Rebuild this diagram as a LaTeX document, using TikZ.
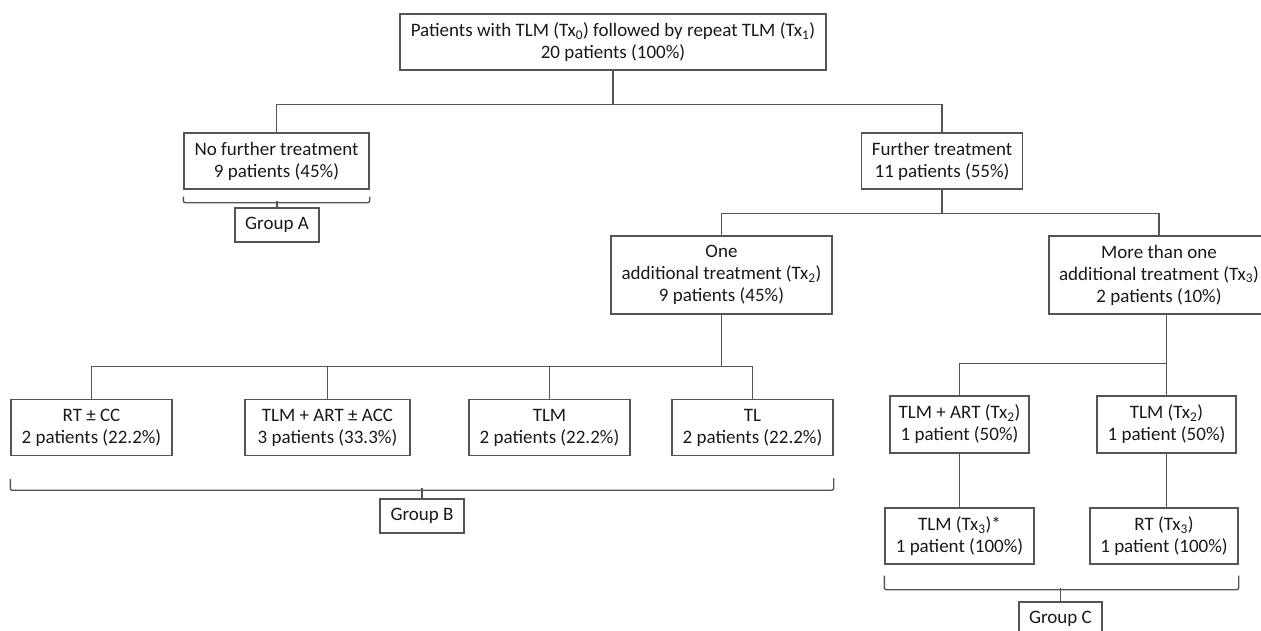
\documentclass[tikz,border=0pt]{standalone}
\usepackage{fontspec}
\setmainfont{Carlito}
\definecolor{linec}{RGB}{85,85,85}
\definecolor{txt}{RGB}{25,25,25}
\begin{document}
\begin{tikzpicture}[x=1pt,y=-1pt,
  box/.style={draw=linec, line width=1.4pt, text=txt, align=center, inner sep=0pt,
    font=\fontsize{19}{22}\selectfont},
  conn/.style={draw=linec, line width=1.4pt},
  brk/.style={draw=linec, line width=1.4pt, rounded corners=2pt}]
\useasboundingbox (0,0) rectangle (1261,630);

% level 0
\node[box, minimum width=426pt, minimum height=56pt] (top) at (613,42)
  {Patients with TLM (Tx\textsubscript{0}) followed by repeat TLM (Tx\textsubscript{1})\\20 patients (100\%)};

% level 1
\node[box, minimum width=185pt, minimum height=56pt] (nofurther) at (276.5,161)
  {No further treatment\\9 patients (45\%)};
\node[box, minimum width=161pt, minimum height=56pt] (further) at (942,161)
  {Further treatment\\11 patients (55\%)};
\node[box, minimum width=84pt, minimum height=34pt] (groupA) at (277,225) {Group A};

% level 2
\node[box, minimum width=221pt, minimum height=78pt] (oneadd) at (721.5,275)
  {One\\additional treatment (Tx\textsubscript{2})\\9 patients (45\%)};
\node[box, minimum width=220pt, minimum height=78pt] (morethan) at (1159,275)
  {More than one\\additional treatment (Tx\textsubscript{3})\\2 patients (10\%)};

% level 3 (one additional)
\node[box, minimum width=161pt, minimum height=56pt] (rtcc) at (91.5,427.5)
  {RT ± CC\\2 patients (22.2\%)};
\node[box, minimum width=165pt, minimum height=56pt] (tlmartacc) at (327.5,427.5)
  {TLM + ART ± ACC\\3 patients (33.3\%)};
\node[box, minimum width=161pt, minimum height=56pt] (tlm) at (549.5,427.5)
  {TLM\\2 patients (22.2\%)};
\node[box, minimum width=161pt, minimum height=56pt] (tl) at (752.5,427.5)
  {TL\\2 patients (22.2\%)};
\node[box, minimum width=84pt, minimum height=34pt] (groupB) at (422,516) {Group B};

% level 3 (more than one)
\node[box, minimum width=139pt, minimum height=57pt] (tlmart2) at (959.5,424.5)
  {TLM + ART (Tx\textsubscript{2})\\1 patient (50\%)};
\node[box, minimum width=139pt, minimum height=57pt] (tlm2) at (1166.5,424.5)
  {TLM (Tx\textsubscript{2})\\1 patient (50\%)};
\node[box, minimum width=149pt, minimum height=56pt] (tlm3) at (959.5,536)
  {TLM (Tx\textsubscript{3})*\\1 patient (100\%)};
\node[box, minimum width=148pt, minimum height=56pt] (rt3) at (1164,536)
  {RT (Tx\textsubscript{3})\\1 patient (100\%)};
\node[box, minimum width=83pt, minimum height=34pt] (groupC) at (1060.5,619) {Group C};

% connectors
\path (top.south) ++(0,34) coordinate (j1);
\draw[conn] (top.south) -- (j1);
\draw[conn] (nofurther.north) |- (j1) -| (further.north);

\path (further.south) ++(0,24) coordinate (j2);
\draw[conn] (further.south) -- (j2);
\draw[conn] (oneadd.north) |- (j2) -| (morethan.north);

\path (oneadd.south) ++(0,52) coordinate (j3);
\draw[conn] (oneadd.south) -- (j3);
\draw[conn] (rtcc.north) |- (j3) -| (tl.north);
\draw[conn] (tlmartacc.north) -- (tlmartacc.north |- j3);
\draw[conn] (tlm.north) -- (tlm.north |- j3);

\path (tlm2.north) ++(0,-32) coordinate (j4);
\draw[conn] (tlm2.north |- morethan.south) -- (tlm2.north);
\draw[conn] (tlmart2.north) |- (j4);
\draw[conn] (tlmart2.south) -- (tlmart2.south |- tlm3.north);
\draw[conn] (tlm2.south) -- (tlm2.south |- rt3.north);

% brackets
\coordinate (aL) at ([yshift=-7pt]nofurther.south west);
\coordinate (aR) at ([yshift=-7pt]nofurther.south east);
\draw[brk] (aL) -- ++(0,6) -| (aR);
\draw[conn] (groupA.north) -- ++(0,-6);

\coordinate (bL) at ([yshift=-23pt]rtcc.south west);
\coordinate (bR) at ([yshift=-22pt]tl.south east);
\draw[brk] (bL) -- ++(0,11) -| (bR);
\draw[conn] (groupB.north) -- ++(0,-10);

\coordinate (cL) at ([yshift=-11pt]tlm3.south west);
\coordinate (cR) at ([yshift=-11pt]rt3.south east);
\draw[brk] (cL) -- ++(0,14) -| (cR);
\draw[conn] (groupC.north) -- ++(0,-13);
\end{tikzpicture}
\end{document}
